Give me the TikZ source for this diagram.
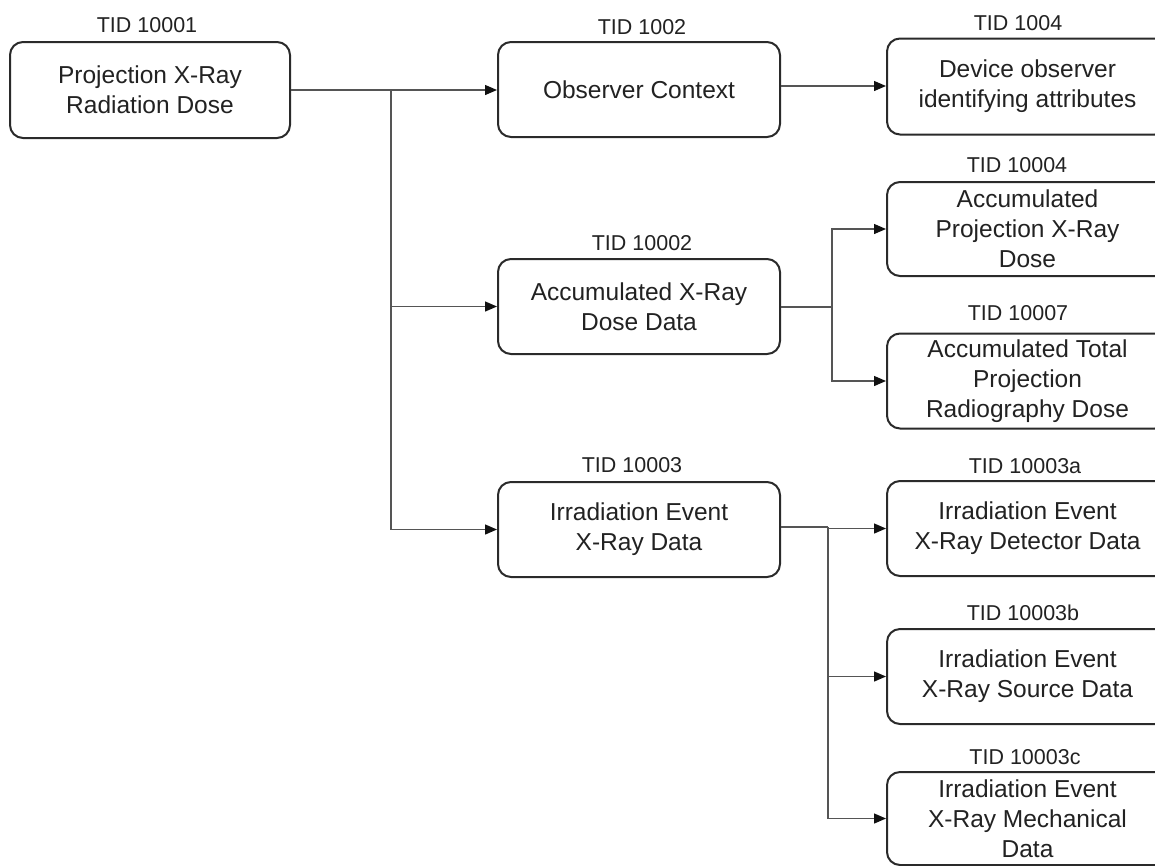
\documentclass[tikz,border=0pt]{standalone}
\usepackage{fontspec}
\setmainfont{Liberation Sans}
\usetikzlibrary{arrows.meta}
\definecolor{boxline}{HTML}{2A2A2A}
\definecolor{txt}{HTML}{222222}
\definecolor{conn}{HTML}{555555}
\definecolor{tipc}{HTML}{111111}
\tikzset{
  tidbox/.style={draw=boxline, line width=2pt, rounded corners=13pt, fill=white,
    align=center, text=txt, inner sep=0pt,
    font=\fontsize{24.5}{30}\selectfont},
  tidlabel/.style={text=txt, inner sep=0pt, font=\fontsize{21.5}{26}\selectfont},
  wire/.style={draw=conn, line width=1.3pt},
  arrowwire/.style={wire, -{Triangle[length=12pt,width=10pt,color=tipc]}}
}
\begin{document}
\begin{tikzpicture}[x=1pt,y=-1pt]
\useasboundingbox (0,0) rectangle (1155,865);
\clip (0,0) rectangle (1155,865);
% nodes
\node[tidbox, minimum width=280, minimum height=96] (b1) at (150,90) {Projection X-Ray\\Radiation Dose};
\node[tidbox, minimum width=282, minimum height=95] (b2) at (639,89.5) {Observer Context};
\node[tidbox, minimum width=281, minimum height=96] (b3) at (1027.5,86.5) {Device observer\\identifying attributes};
\node[tidbox, minimum width=282, minimum height=95] (b10002) at (639,306.5) {Accumulated X-Ray\\Dose Data};
\node[tidbox, minimum width=281, minimum height=94] (b10004) at (1027.5,229) {Accumulated\\Projection X-Ray\\Dose};
\node[tidbox, minimum width=281, minimum height=95] (b10007) at (1027.5,381) {Accumulated Total\\Projection\\Radiography Dose};
\node[tidbox, minimum width=282, minimum height=95] (b10003) at (639,529.5) {Irradiation Event\\X-Ray Data};
\node[tidbox, minimum width=281, minimum height=95] (b10003a) at (1027.5,528.5) {Irradiation Event\\X-Ray Detector Data};
\node[tidbox, minimum width=281, minimum height=95] (b10003b) at (1027.5,676.5) {Irradiation Event\\X-Ray Source Data};
\node[tidbox, minimum width=281, minimum height=93] (b10003c) at (1027.5,818.5) {Irradiation Event\\X-Ray Mechanical\\Data};
% labels
\node[tidlabel] (l1) at (147,25) {TID 10001};
\node[tidlabel] (l2) at (642,27) {TID 1002};
\node[tidlabel] (l3) at (1018,23) {TID 1004};
\node[tidlabel] (l10002) at (642,243) {TID 10002};
\node[tidlabel] (l10004) at (1017,165) {TID 10004};
\node[tidlabel] (l10007) at (1018,313) {TID 10007};
\node[tidlabel] (l10003) at (632,465) {TID 10003};
\node[tidlabel] (l10003a) at (1025,466) {TID 10003a};
\node[tidlabel] (l10003b) at (1023,613) {TID 10003b};
\node[tidlabel] (l10003c) at (1025,757) {TID 10003c};
% junction points
\coordinate (j1) at (391,90);
\coordinate (j2) at (832,307);
\coordinate (j3) at (828,527);
\coordinate (k2) at (780,86);
% connectors
\draw[wire] (j1 -| b1.east) -- (j1);
\draw[arrowwire] (j1) -- (j1 -| b2.west);
\draw[wire] (j1) -- (j1 |- b10003.west);
\draw[arrowwire] (j1 |- b10002.west) -- (b10002.west);
\draw[arrowwire] (j1 |- b10003.west) -- (b10003.west);
\draw[arrowwire] (k2 -| b2.east) -- (k2 -| b3.west);
\draw[wire] (j2 -| b10002.east) -- (j2);
\draw[arrowwire] (j2) |- (b10004.west);
\draw[arrowwire] (j2) |- (b10007.west);
\draw[wire] (j3 -| b10003.east) -- (j3);
\draw[arrowwire] (j3) |- (b10003a.west);
\draw[arrowwire] (j3) |- (b10003b.west);
\draw[arrowwire] (j3) |- (b10003c.west);
\end{tikzpicture}
\end{document}
